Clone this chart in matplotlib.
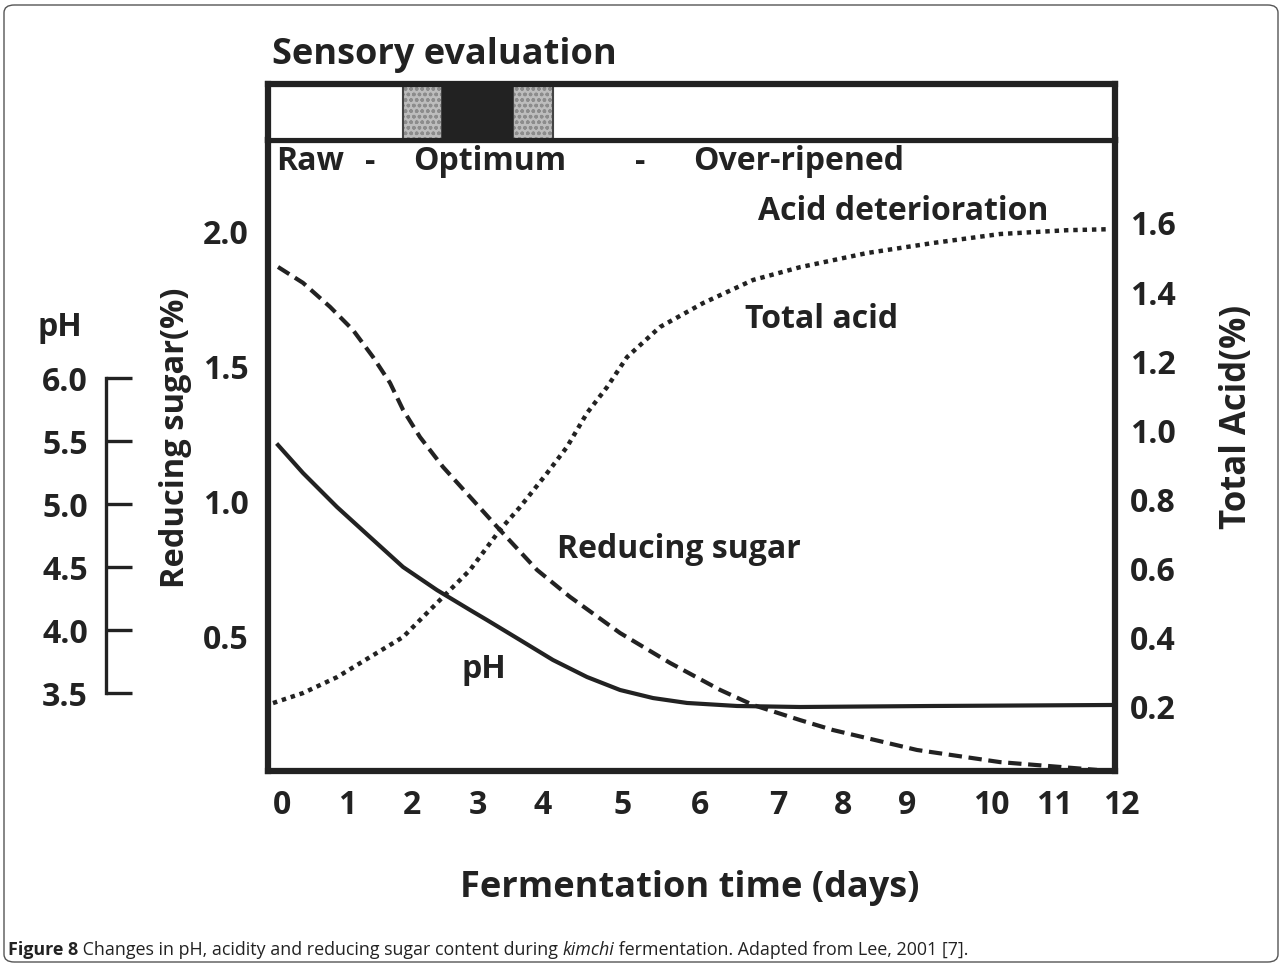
import matplotlib
matplotlib.use('Agg')
import matplotlib.pyplot as plt
from matplotlib.patches import FancyBboxPatch

# --- data (x in days) ---
sugar_days = [-0.057, 0.30, 0.686, 1.014, 1.30, 1.543, 1.729, 1.971, 2.30, 2.686, 3.114,
              3.643, 4.114, 4.829, 5.543, 6.257, 6.729, 7.40, 7.871, 9.071, 10.257, 11.643]
sugar = [1.870, 1.811, 1.722, 1.636, 1.536, 1.440, 1.340, 1.239, 1.128, 1.017, 0.894,
         0.746, 0.646, 0.512, 0.401, 0.301, 0.245, 0.189, 0.152, 0.078, 0.033, 0.004]

acid_days = [-0.129, 0.30, 0.786, 1.257, 1.729, 2.014, 2.30, 2.686, 3.114, 3.40, 3.786,
             4.071, 4.357, 4.643, 4.929, 5.40, 6.014, 6.729, 7.40, 8.357, 9.30, 10.257,
             11.214, 11.829]
acid = [0.211, 0.240, 0.286, 0.344, 0.402, 0.460, 0.518, 0.596, 0.712, 0.778, 0.876,
        0.952, 1.050, 1.125, 1.212, 1.299, 1.368, 1.435, 1.472, 1.513, 1.542, 1.568,
        1.579, 1.582]

ph_days = [-0.057, 0.30, 0.786, 1.257, 1.729, 2.214, 2.686, 2.929, 3.40, 3.871, 4.357,
           4.829, 5.30, 5.786, 6.50, 7.40, 9.30, 11.871]
ph = [5.468, 5.246, 4.976, 4.738, 4.50, 4.317, 4.159, 4.079, 3.921, 3.762, 3.627,
      3.524, 3.460, 3.421, 3.397, 3.389, 3.397, 3.405]

day_labels = ['0', '1', '2', '3', '4', '5', '6', '7', '8', '9', '10', '11', '12']
day_label_pos = [0, 0.93, 1.86, 2.8, 3.73, 4.86, 5.97, 7.09, 8.01, 8.93, 10.14, 11.04, 11.99]

sugar_ticks = [0.5, 1.0, 1.5, 2.0]
acid_ticks = [0.2, 0.4, 0.6, 0.8, 1.0, 1.2, 1.4, 1.6]
ph_ticks = [3.5, 4.0, 4.5, 5.0, 5.5, 6.0]

# sensory strip: mottled transition bands and the optimum band (days)
transition_bands = [(1.73, 2.29), (3.30, 3.87)]
optimum_band = (2.29, 3.30)

ink = '#222222'
plt.rcParams['font.family'] = ['Open Sans', 'DejaVu Sans']
plt.rcParams['font.weight'] = 'bold'
plt.rcParams['text.color'] = ink

W, H = 1282, 967
fig = plt.figure(figsize=(12.82, 9.67), dpi=100)


def fx(x):
    return x / W


def fy(y):
    return 1 - y / H


# main plot box
ax = fig.add_axes([fx(268), fy(771), (1115 - 268) / W, (771 - 140) / H])
ax.set_xlim(-0.2, 11.9)
ax.set_ylim(0, 2.341)
ax.plot(sugar_days, sugar, color=ink, lw=3, ls=(0, (3.2, 1.6)))
ax.set_xticks([])
ax.set_yticks(sugar_ticks, [f'{v:.1f}' for v in sugar_ticks])
ax.tick_params(axis='y', length=0, pad=14, labelsize=23, labelcolor=ink)
for s in ax.spines.values():
    s.set_linewidth(4.5)
    s.set_color(ink)
for p, lab in zip(day_label_pos, day_labels):
    ax.text(p, -0.054, lab, transform=ax.get_xaxis_transform(), ha='center', va='center',
            fontsize=23, fontweight='bold')

# total acid (right)
ax_acid = ax.twinx()
ax_acid.set_ylim(0.0145, 1.840)
ax_acid.plot(acid_days, acid, color=ink, lw=3.2, ls=(0, (1.0, 1.1)))
ax_acid.set_yticks(acid_ticks, [f'{v:.1f}' for v in acid_ticks])
ax_acid.tick_params(axis='y', length=0, pad=11, labelsize=23, labelcolor=ink)
for s in ax_acid.spines.values():
    s.set_visible(False)

# pH on its own bracket scale
ax_ph = ax.twinx()
ax_ph.set_ylim(2.881, 7.889)
ax_ph.plot(ph_days, ph, color=ink, lw=3)
for k in ['right', 'top', 'bottom']:
    ax_ph.spines[k].set_visible(False)
ax_ph.spines['left'].set_visible(True)
ax_ph.spines['left'].set_position(('axes', (106 - 268) / 847))
ax_ph.spines['left'].set_bounds(3.5, 6.0)
ax_ph.spines['left'].set_linewidth(2.4)
ax_ph.spines['left'].set_color(ink)
ax_ph.yaxis.set_ticks_position('left')
ax_ph.set_yticks(ph_ticks, [f'{v:.1f}' for v in ph_ticks])
ax_ph.tick_params(axis='y', direction='in', length=19, width=2.4, color=ink, pad=13,
                  labelsize=23, labelcolor=ink)

# sensory evaluation strip
sax = fig.add_axes([fx(268), fy(140), (1115 - 268) / W, (140 - 84) / H])
sax.set_xlim(ax.get_xlim())
sax.set_ylim(0, 1)
sax.set_xticks([])
sax.set_yticks([])
for s in sax.spines.values():
    s.set_linewidth(4.5)
    s.set_color(ink)
sax.spines['bottom'].set_linewidth(3)
for a, b in transition_bands:
    sax.axvspan(a, b, facecolor='#bdbdbd', edgecolor='#8c8c8c', hatch='ooo', lw=0)
    sax.axvspan(a, b, facecolor='none', edgecolor='#444444', lw=1.5)
sax.axvspan(*optimum_band, facecolor=ink, edgecolor=ink, lw=0)

# texts
fig.text(fx(272), fy(55), 'Sensory evaluation', fontsize=26, va='center', ha='left')
for x, t in [(276, 'Raw'), (413, 'Optimum'), (693, 'Over-ripened')]:
    fig.text(fx(x), fy(162), t, fontsize=23, va='center', ha='left')
for x in [370, 640]:
    fig.text(fx(x), fy(162), '-', fontsize=23, va='center', ha='center')
fig.text(fx(758), fy(211), 'Acid deterioration', fontsize=23, va='center', ha='left')
fig.text(fx(745), fy(319), 'Total acid', fontsize=23, va='center', ha='left')
fig.text(fx(557), fy(549), 'Reducing sugar', fontsize=23, va='center', ha='left')
fig.text(fx(462), fy(670), 'pH', fontsize=23, va='center', ha='left')
fig.text(fx(38), fy(327), 'pH', fontsize=23, va='center', ha='left')
fig.text(fx(175), fy(438), 'Reducing sugar(%)', fontsize=23.5, rotation=90,
         va='center', ha='center')
fig.text(fx(1237), fy(417), 'Total Acid(%)', fontsize=25, rotation=90,
         va='center', ha='center')
fig.text(fx(690), fy(888), 'Fermentation time (days)', fontsize=26, va='center',
         ha='center')

# caption, drawn piece by piece
renderer = fig.canvas.get_renderer()
cap = [('Figure 8', 'bold', 'normal'),
       (' Changes in pH, acidity and reducing sugar content during ', 'normal', 'normal'),
       ('kimchi', 'normal', 'italic'),
       (' fermentation. Adapted from Lee, 2001 [7].', 'normal', 'normal')]
xc = fx(8)
for txt, wt, st in cap:
    t = fig.text(xc, fy(950), txt, fontsize=12.9, fontweight=wt, fontstyle=st,
                 va='center', ha='left')
    bb = t.get_window_extent(renderer)
    xc += bb.width / W

# outer rounded frame
fig.patches.append(FancyBboxPatch((fx(4), fy(962)), fx(1278) - fx(4), fy(5) - fy(962),
                                  boxstyle='round,pad=0,rounding_size=0.008',
                                  transform=fig.transFigure, fill=False,
                                  edgecolor='#555555', lw=1))

fig.savefig('out.png', dpi=100)
